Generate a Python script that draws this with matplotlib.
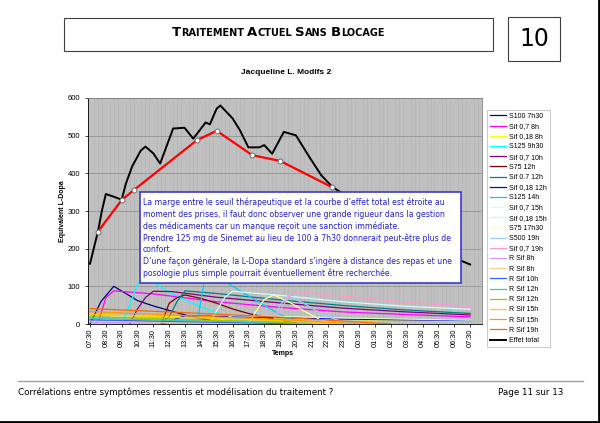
import matplotlib
matplotlib.use('Agg')
import matplotlib.pyplot as plt
import numpy as np
from matplotlib.patches import Rectangle
from matplotlib.lines import Line2D
from matplotlib.offsetbox import TextArea, HPacker, AnchoredOffsetbox

# --- données (heures écoulées depuis 07:30) ---
hour_labels = ['07:30', '08:30', '09:30', '10:30', '11:30', '12:30', '13:30', '14:30',
               '15:30', '16:30', '17:30', '18:30', '19:30', '20:30', '21:30', '22:30',
               '23:30', '00:30', '01:30', '02:30', '03:30', '04:30', '05:30', '06:30', '07:30']

t_s100_7h30 = [0, 0.7, 1.0, 1.5, 2.5, 3.0, 4.0, 5.0, 6.0, 7.0, 8.0, 9.0, 10.0]
v_s100_7h30 = [0, 60, 75, 100, 75, 62, 48, 36, 24, 14, 7, 2, 0]

t_sif07_8h = [0.5, 1.0, 1.5, 4.0, 8.0, 12.0, 16.0, 20.0, 24.0]
v_sif07_8h = [0, 70, 88, 80, 59, 44, 32, 25, 19]

t_sif018_8h = [0.5, 1.5, 4.0, 8.0, 12.0, 16.0, 20.0, 24.0]
v_sif018_8h = [0, 22, 21, 18, 15, 12, 10, 8]

t_s125_9h30 = [2.0, 2.5, 3.0, 3.5, 4.2, 5.0, 6.0, 7.0, 8.0, 9.0, 10.0, 11.0, 12.0]
v_s125_9h30 = [0, 50, 105, 130, 105, 85, 64, 45, 30, 18, 8, 2, 0]

t_sif07_10h = [2.5, 3.0, 3.5, 4.0, 5.2, 8.0, 12.0, 16.0, 20.0, 24.0]
v_sif07_10h = [0, 40, 70, 87, 86, 71, 56, 42, 32, 24]

t_s75_12h = [4.5, 5.0, 5.5, 6.0, 7.0, 8.0, 9.0, 10.0, 11.0, 12.0, 13.0]
v_s75_12h = [0, 55, 70, 77, 68, 55, 40, 28, 18, 10, 4]

t_sif07_12h = [4.5, 5.0, 5.5, 6.0, 8.0, 12.0, 16.0, 20.0, 24.0]
v_sif07_12h = [0, 19, 60, 88, 81, 64, 49, 37, 28]

t_sif018_12h = [4.5, 6.0, 8.0, 12.0, 16.0, 20.0, 24.0]
v_sif018_12h = [0, 22, 20, 17, 13, 11, 9]

t_s125_14h = [6.75, 7.2, 7.5, 8.0, 8.7, 10.0, 11.0, 12.0, 13.0, 14.0]
v_s125_14h = [0, 110, 130, 125, 108, 75, 50, 25, 8, 0]

t_sif07_15h = [7.5, 8.0, 8.5, 9.0, 12.0, 16.0, 20.0, 24.0]
v_sif07_15h = [0, 35, 70, 87, 76, 59, 47, 39]

t_sif018_15h = [7.5, 9.0, 12.0, 16.0, 20.0, 24.0]
v_sif018_15h = [0, 22, 20, 16, 13, 10]

t_s75_17h30 = [10.0, 10.5, 11.0, 11.6, 12.5, 13.5, 14.5, 15.5]
v_s75_17h30 = [0, 35, 65, 77, 60, 35, 12, 0]

t_s500_19h = [11.5, 12.0, 12.5, 13.5, 14.5, 15.5, 16.5]
v_s500_19h = [0, 50, 75, 55, 30, 12, 0]

t_sif07_19h = [11.5, 12.0, 12.5, 13.0, 16.0, 20.0, 24.0]
v_sif07_19h = [0, 35, 70, 86, 74, 58, 46]

t_rsif_8h_a = [0, 6, 10]
v_rsif_8h_a = [5, 2, 0]
t_rsif_8h_b = [0, 6, 10, 12]
v_rsif_8h_b = [8, 4, 1, 0]
t_rsif_10h = [0, 6, 11, 13]
v_rsif_10h = [11, 6, 2, 0]
t_rsif_12h_a = [0, 6, 12, 14]
v_rsif_12h_a = [15, 9, 4, 0]
t_rsif_12h_b = [0, 6, 12, 14]
v_rsif_12h_b = [19, 12, 5, 0]
t_rsif_15h_a = [0, 6, 12, 16]
v_rsif_15h_a = [26, 17, 9, 0]
t_rsif_15h_b = [0, 6, 12, 17]
v_rsif_15h_b = [33, 22, 12, 0]
t_rsif_19h = [0, 6, 12, 19]
v_rsif_19h = [41, 30, 18, 0]

t_total = [0, 0.5, 0.75, 1.0, 1.5, 2.0, 2.27, 2.67, 3.2, 3.5, 4.0, 4.43, 5.25, 5.97, 6.52,
           7.3, 7.57, 8.0, 8.23, 9.0, 9.46, 10.0, 10.7, 11.0, 11.5, 12.24, 13.0, 13.9,
           14.6, 15.3, 16, 17, 18, 19, 20, 21, 22, 22.85, 24]
v_total = [160, 245, 300, 345, 338, 330, 373, 419, 460, 471, 453, 426, 519, 521, 492,
           535, 530, 572, 580, 546, 515, 469, 469, 475, 452, 510, 501, 440,
           395, 364, 345, 315, 285, 255, 230, 210, 192, 178, 158]

t_seuil = [0.5, 2.0, 2.75, 6.75, 8.0, 10.25, 12.0, 15.25]
v_seuil = [245, 329, 355, 488, 513, 448, 433, 364]

series = [
    ('S100 7h30', '#000080', t_s100_7h30, v_s100_7h30),
    ('Sif 0,7 8h', '#FF00FF', t_sif07_8h, v_sif07_8h),
    ('Sif 0,18 8h', '#FFFF00', t_sif018_8h, v_sif018_8h),
    ('S125 9h30', '#00FFFF', t_s125_9h30, v_s125_9h30),
    ('Sif 0,7 10h', '#800080', t_sif07_10h, v_sif07_10h),
    ('S75 12h', '#800000', t_s75_12h, v_s75_12h),
    ('Sif 0.7 12h', '#008080', t_sif07_12h, v_sif07_12h),
    ('Sif 0,18 12h', '#0000FF', t_sif018_12h, v_sif018_12h),
    ('S125 14h', '#00CCFF', t_s125_14h, v_s125_14h),
    ('Sif 0,7 15h', '#CCFFFF', t_sif07_15h, v_sif07_15h),
    ('Sif 0,18 15h', '#CCFFCC', t_sif018_15h, v_sif018_15h),
    ('S75 17h30', '#FFFF99', t_s75_17h30, v_s75_17h30),
    ('S500 19h', '#99CCFF', t_s500_19h, v_s500_19h),
    ('Sif 0,7 19h', '#FF99CC', t_sif07_19h, v_sif07_19h),
    ('R Sif 8h', '#CC99FF', t_rsif_8h_a, v_rsif_8h_a),
    ('R Sif 8h', '#FFCC99', t_rsif_8h_b, v_rsif_8h_b),
    ('R Sif 10h', '#3366FF', t_rsif_10h, v_rsif_10h),
    ('R Sif 12h', '#33CCCC', t_rsif_12h_a, v_rsif_12h_a),
    ('R Sif 12h', '#99CC00', t_rsif_12h_b, v_rsif_12h_b),
    ('R Sif 15h', '#FFCC00', t_rsif_15h_a, v_rsif_15h_a),
    ('R Sif 15h', '#FF9900', t_rsif_15h_b, v_rsif_15h_b),
    ('R Sif 19h', '#FF6600', t_rsif_19h, v_rsif_19h),
]

W, H = 600, 423
fig = plt.figure(figsize=(6, 4.23), dpi=100)
fig.patch.set_facecolor('white')


def fx(px):
    return px / W


def fy(py):
    return 1 - py / H


# --- bandeau du haut ---
fig.add_artist(Rectangle((fx(64), fy(51)), fx(493) - fx(64), fy(18) - fy(51),
                         transform=fig.transFigure, fill=False, ec='#404040', lw=0.8))
fig.add_artist(Rectangle((fx(508), fy(61)), fx(560) - fx(508), fy(17) - fy(61),
                         transform=fig.transFigure, fill=False, ec='#404040', lw=0.8))
fig.text(fx(534), fy(39), '10', fontsize=17, ha='center', va='center')

parts = []
for i, word in enumerate(['TRAITEMENT', 'ACTUEL', 'SANS', 'BLOCAGE']):
    if i > 0:
        parts.append(TextArea(' ', textprops=dict(fontsize=7)))
    parts.append(TextArea(word[0], textprops=dict(fontsize=9.5, weight='bold')))
    parts.append(TextArea(word[1:], textprops=dict(fontsize=7, weight='bold')))
title_box = HPacker(children=parts, align='baseline', pad=0, sep=0)
fig.add_artist(AnchoredOffsetbox(loc='center', child=title_box, frameon=False,
                                 bbox_to_anchor=(fx(278), fy(32)),
                                 bbox_transform=fig.transFigure, pad=0, borderpad=0))

fig.text(fx(286), fy(73), 'Jacqueline L. Modifs 2', fontsize=6, weight='bold',
         ha='center', va='center', family='Liberation Sans')

# --- graphique ---
ax = fig.add_axes([fx(88), fy(324), fx(482) - fx(88), fy(98) - fy(324)])
ax.set_facecolor('#c0c0c0')
ax.set_xlim(-0.125, 24.125)
ax.set_ylim(0, 600)

ax.set_xticks(np.arange(0, 25, 0.25), minor=True)
ax.grid(which='minor', axis='x', color='#b2b2b2', lw=0.4)
ax.set_yticks([0, 100, 200, 300, 400, 500, 600])
ax.grid(which='major', axis='y', color='#8c8c8c', lw=0.5)
ax.set_axisbelow(True)

for name, color, t, v in series:
    ax.plot(t, v, color=color, lw=0.9, label=name)
ax.plot(t_total, v_total, color='black', lw=1.4, label='Effet total')
ax.plot(t_seuil, v_seuil, color='#ff0000', lw=1.6, marker='o', ms=3.5,
        mfc='white', mec='#707070', mew=0.7)

ax.set_xticks(range(25))
ax.set_xticklabels(hour_labels, rotation=90, fontsize=5.3, family='Liberation Sans')
ax.tick_params(axis='y', labelsize=5.5, length=2, width=0.5)
ax.tick_params(axis='x', which='major', length=2, width=0.5, pad=1.5)
ax.tick_params(axis='x', which='minor', length=0)
for lab in ax.get_yticklabels():
    lab.set_family('Liberation Sans')
for s in ['top', 'right']:
    ax.spines[s].set_color('#808080')
    ax.spines[s].set_linewidth(0.6)
for s in ['left', 'bottom']:
    ax.spines[s].set_color('black')
    ax.spines[s].set_linewidth(0.6)

fig.text(fx(62), fy(211), 'Equivalent L-Dopa', rotation=90, fontsize=5, weight='bold',
         ha='center', va='center', family='Liberation Sans')
fig.text(fx(283), fy(353), 'Temps', fontsize=5, weight='bold',
         ha='center', va='center', family='Liberation Sans')

handles, labels = ax.get_legend_handles_labels()
leg = fig.legend(handles, labels, loc='upper left', bbox_to_anchor=(fx(487), fy(110)),
                 bbox_transform=fig.transFigure, frameon=True, fancybox=False,
                 edgecolor='#b0b0b0', handlelength=2.4, handletextpad=0.4,
                 labelspacing=0.46, borderpad=0.4, borderaxespad=0,
                 prop=dict(family='Liberation Sans', size=5))
leg.get_frame().set_linewidth(0.6)

# --- commentaire ---
fig.add_artist(Rectangle((fx(140), fy(283)), fx(461) - fx(140), fy(192) - fy(283),
                         transform=fig.transFigure, fc='white', ec='#3c3cc8', lw=1.2,
                         zorder=5))
comment = [
    "La marge entre le seuil thérapeutique et la courbe d’effet total est étroite au",
    "moment des prises, il faut donc observer une grande rigueur dans la gestion",
    "des médicaments car un manque reçoit une sanction immédiate.",
    "Prendre 125 mg de Sinemet au lieu de 100 à 7h30 donnerait peut-être plus de",
    "confort.",
    "D’une façon générale, la L-Dopa standard s’ingère à distance des repas et une",
    "posologie plus simple pourrait éventuellement être recherchée.",
]
for i, line in enumerate(comment):
    fig.text(fx(143), fy(202.5 + 11.8 * i), line, fontsize=5.55, color='#2222c8',
             ha='left', va='center', zorder=6)

# --- pied de page ---
fig.add_artist(Line2D([fx(18), fx(583)], [fy(381), fy(381)], transform=fig.transFigure,
                      color='#a0a0a0', lw=1))
fig.text(fx(18), fy(392), 'Corrélations entre symptômes ressentis et modélisation du traitement ?',
         fontsize=6.3, ha='left', va='center')
fig.text(fx(498), fy(392), 'Page 11 sur 13', fontsize=6.3, ha='left', va='center')
fig.add_artist(Line2D([0, 1], [fy(422), fy(422)], transform=fig.transFigure,
                      color='black', lw=2))
fig.add_artist(Line2D([fx(599), fx(599)], [0, 1], transform=fig.transFigure,
                      color='black', lw=2))

fig.savefig('out.png', dpi=100)
